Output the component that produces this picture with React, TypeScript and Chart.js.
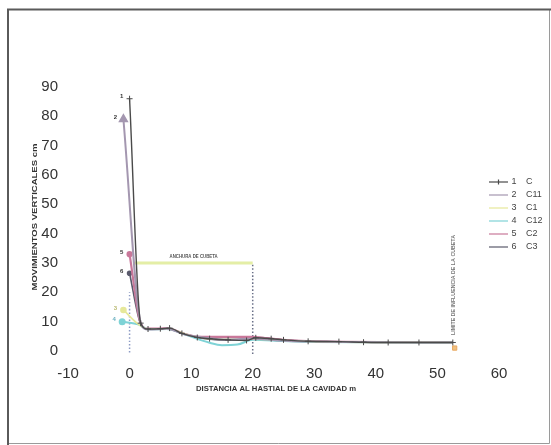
import React, { useEffect, useRef } from "react";
import { Chart, registerables } from "chart.js";

Chart.register(...registerables);

// ---------- data ----------
const seriesNames = ["C", "C11", "C1", "C12", "C2", "C3"];
const seriesNumbers = ["1", "2", "3", "4", "5", "6"];

const xC = [0, 1.8, 3, 5, 6.5, 8.5, 11, 13, 16, 19, 20.5, 23, 25, 29, 34, 38, 42, 47, 52.5];
const yC = [86, 9.5, 7.5, 7.6, 7.8, 6.0, 4.6, 4.2, 3.8, 3.6, 4.5, 4.2, 3.8, 3.3, 3.2, 3.0, 2.9, 2.9, 2.9];

const xC11 = [-1, 1.9, 3, 6, 9, 12, 16, 20, 24, 30, 40, 52.5];
const yC11 = [79, 9, 7.3, 7.6, 5.6, 4.6, 3.9, 4.2, 3.6, 3.2, 3.0, 2.9];

const xC1 = [-1, 1.5, 3, 6, 10, 14, 20, 30, 52.5];
const yC1 = [14, 9, 7.5, 7.6, 5.2, 4.0, 4.0, 3.2, 2.9];

const xC12 = [-1.2, 1.5, 3, 6, 9, 13, 15, 17.5, 20, 25, 30, 52.5];
const yC12 = [10, 9, 7.4, 7.5, 5.6, 2.8, 2.0, 2.2, 3.8, 3.4, 3.1, 2.9];

const xC2 = [0, 1.8, 3, 6, 9, 11, 15, 20, 22, 26, 30, 52.5];
const yC2 = [33, 9.5, 7.6, 7.7, 5.8, 4.9, 4.8, 4.8, 4.4, 3.6, 3.3, 3.0];

const xC3 = [0, 1.8, 3, 6, 9, 12, 16, 20, 21, 25, 30, 52.5];
const yC3 = [26.5, 9.2, 7.4, 7.6, 5.8, 4.3, 3.7, 4.0, 4.6, 3.8, 3.3, 2.9];

// reference lines
const anchoX = [0.8, 20];
const anchoY = [30, 30];
const vLine0X = [0, 0];
const vLine0Y = [-0.5, 20];
const vLine20X = [20, 20];
const vLine20Y = [-1, 30];
const endMarkX = [52.8];
const endMarkY = [1];

const anchoLabel = "ANCHURA DE CUBETA";
const limiteLabel = "LIMITE DE INFLUENCIA DE LA CUBETA";
const yTitle = "MOVIMIENTOS VERTICALES cm";
const xTitle = "DISTANCIA AL HASTIAL DE LA CAVIDAD m";

const xMin = -10, xMax = 60, xStep = 10;
const yMin = 0, yMax = 90, yStep = 10;

const colors = ["#4a4a4a", "#a497b0", "#e6e89a", "#7fd3d6", "#c9789a", "#5a5a6c"];

const pts = (xs: number[], ys: number[]) => xs.map((x, i) => ({ x, y: ys[i] }));

function fitText(ctx: CanvasRenderingContext2D, text: string, cx: number, cy: number, width: number, font: string, color: string, rot = 0) {
  ctx.save();
  ctx.font = font;
  ctx.fillStyle = color;
  ctx.textAlign = "center";
  ctx.textBaseline = "middle";
  const w = ctx.measureText(text).width;
  ctx.translate(cx, cy);
  ctx.rotate(rot);
  ctx.scale(width / w, 1);
  ctx.fillText(text, 0, 0);
  ctx.restore();
}

const overlay = {
  id: "overlay",
  beforeDraw(chart: any) {
    const ctx = chart.ctx;
    ctx.save();
    ctx.fillStyle = "#ffffff";
    ctx.fillRect(0, 0, chart.width, chart.height);
    ctx.restore();
  },
  afterDraw(chart: any) {
    const ctx: CanvasRenderingContext2D = chart.ctx;
    const sx = chart.scales.x;
    const sy = chart.scales.y;
    // frame
    ctx.save();
    ctx.strokeStyle = "#9a9a9a";
    ctx.lineWidth = 1;
    ctx.beginPath();
    ctx.moveTo(549.5, 9);
    ctx.lineTo(549.5, 443.5);
    ctx.lineTo(8, 443.5);
    ctx.stroke();
    ctx.strokeStyle = "#5a5a5a";
    ctx.lineWidth = 2;
    ctx.beginPath();
    ctx.moveTo(8, 445);
    ctx.lineTo(8, 9.5);
    ctx.lineTo(551, 9.5);
    ctx.stroke();
    ctx.restore();

    // axis titles
    fitText(ctx, yTitle, 35, 217, 147, "bold 8px 'Liberation Sans'", "#333", -Math.PI / 2);
    fitText(ctx, xTitle, 276, 389, 160, "bold 7px 'Liberation Sans'", "#333");

    // reference labels
    fitText(ctx, anchoLabel, (sx.getPixelForValue(anchoX[0]) + sx.getPixelForValue(anchoX[1])) / 2, sy.getPixelForValue(anchoY[0]) - 6, 48, "bold 5px 'Liberation Sans'", "#555");
    fitText(ctx, limiteLabel, sx.getPixelForValue(endMarkX[0]) - 1, 285, 100, "bold 5px 'Liberation Sans'", "#777", -Math.PI / 2);

    // series number labels at first points
    const firsts = [
      [xC[0], yC[0]], [xC11[0], yC11[0]], [xC1[0], yC1[0]],
      [xC12[0], yC12[0]], [xC2[0], yC2[0]], [xC3[0], yC3[0]],
    ];
    ctx.save();
    ctx.font = "bold 6px 'Liberation Sans'";
    ctx.textAlign = "center";
    ctx.textBaseline = "middle";
    firsts.forEach((p, i) => {
      ctx.fillStyle = i === 2 ? "#b8b870" : i === 3 ? "#6ab0c0" : "#333";
      const px = sx.getPixelForValue(p[0]);
      const py = sy.getPixelForValue(p[1]);
      ctx.fillText(seriesNumbers[i], px - 8, py - 2);
    });
    ctx.restore();

    // legend
    ctx.save();
    const rowY0 = 182, rowStep = 13;
    seriesNames.forEach((name, i) => {
      const y = rowY0 + i * rowStep;
      ctx.strokeStyle = colors[i];
      ctx.lineWidth = 1.2;
      ctx.beginPath();
      ctx.moveTo(489, y);
      ctx.lineTo(508, y);
      ctx.stroke();
      if (i === 0) {
        ctx.beginPath();
        ctx.moveTo(498.5, y - 2.5);
        ctx.lineTo(498.5, y + 2.5);
        ctx.stroke();
      }
      ctx.fillStyle = "#444";
      ctx.font = "9px 'Liberation Sans'";
      ctx.textBaseline = "middle";
      ctx.textAlign = "center";
      ctx.fillText(seriesNumbers[i], 514, y);
      ctx.textAlign = "left";
      ctx.fillText(name, 526, y);
    });
    ctx.restore();
  },
};

export default function App() {
  const ref = useRef<HTMLCanvasElement | null>(null);
  useEffect(() => {
    if (!ref.current) return;
    const lineDs = (label: string, xs: number[], ys: number[], color: string, extra: any = {}) => ({
      label,
      data: pts(xs, ys),
      showLine: true,
      borderColor: color,
      backgroundColor: color,
      borderWidth: 1.6,
      pointRadius: 0,
      cubicInterpolationMode: "monotone",
      clip: false,
      ...extra,
    });
    const chart = new Chart(ref.current, {
      type: "scatter",
      data: {
        datasets: [
          lineDs("C", xC, yC, colors[0], { pointStyle: "cross", pointRadius: 3, pointBorderWidth: 1, borderWidth: 1.4 }),
          lineDs("C11", xC11, yC11, colors[1], { borderWidth: 2, pointStyle: "triangle", pointRadius: (c: any) => (c.dataIndex === 0 ? 4 : 0) }),
          lineDs("C1", xC1, yC1, colors[2], { pointRadius: (c: any) => (c.dataIndex === 0 ? 2.5 : 0) }),
          lineDs("C12", xC12, yC12, colors[3], { borderWidth: 2, pointRadius: (c: any) => (c.dataIndex === 0 ? 2.5 : 0) }),
          lineDs("C2", xC2, yC2, colors[4], { borderWidth: 2.2, pointRadius: (c: any) => (c.dataIndex === 0 ? 2 : 0) }),
          lineDs("C3", xC3, yC3, colors[5], { pointRadius: (c: any) => (c.dataIndex === 0 ? 2 : 0) }),
          lineDs("ancho", anchoX, anchoY, "#e4eea6", { borderWidth: 3, cubicInterpolationMode: "default" }),
          lineDs("v0", vLine0X, vLine0Y, "#8c9ac4", { borderWidth: 1.5, borderDash: [1.5, 2] }),
          lineDs("v20", vLine20X, vLine20Y, "#6a7088", { borderWidth: 1.5, borderDash: [1.5, 2] }),
          {
            label: "end",
            data: pts(endMarkX, endMarkY),
            pointStyle: "rect",
            pointRadius: 3,
            backgroundColor: "#f0c080",
            borderColor: "#e8a860",
            clip: false,
          },
        ],
      },
      options: {
        responsive: false,
        animation: false,
        events: [],
        layout: { padding: { left: 8, right: 52, top: 87, bottom: 64 } },
        plugins: { legend: { display: false }, tooltip: { enabled: false } },
        scales: {
          x: {
            type: "linear",
            min: xMin,
            max: xMax,
            grid: { display: false, drawTicks: false },
            border: { display: false },
            ticks: { stepSize: xStep, padding: 14, color: "#333", font: { family: "'Liberation Sans'", size: 15 } },
            afterFit: (s: any) => { s.height = 30; },
          },
          y: {
            min: yMin,
            max: yMax,
            grid: { display: false, drawTicks: false },
            border: { display: false },
            ticks: { stepSize: yStep, padding: 10, color: "#333", font: { family: "'Liberation Sans'", size: 15 } },
            afterFit: (s: any) => { s.width = 60; },
          },
        },
      } as any,
      plugins: [overlay],
    });
    return () => chart.destroy();
  }, []);
  return (
    <div style={{ position: "fixed", left: 0, top: 0, width: 551, height: 445, background: "#fff" }}>
      <canvas ref={ref} width={551} height={445} style={{ width: 551, height: 445, display: "block" }} />
    </div>
  );
}
